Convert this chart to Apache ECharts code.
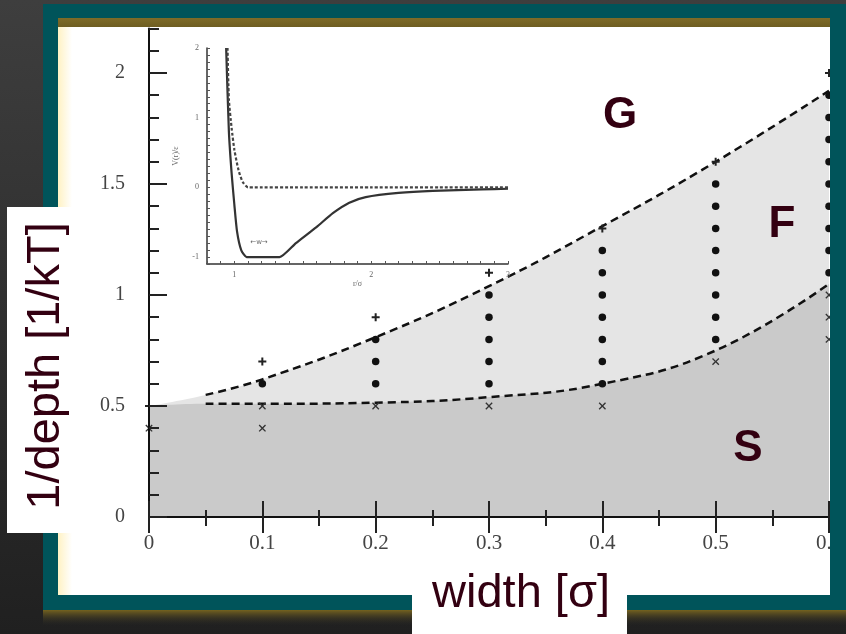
<!DOCTYPE html>
<html><head><meta charset="utf-8">
<script src="https://cdn.jsdelivr.net/npm/echarts@6/dist/echarts.min.js"></script>
<style>html,body{margin:0;padding:0;background:#333;}#c{width:846px;height:634px;}</style>
</head><body><div id="c"></div>
<script>
// ---- main phase diagram data ----
const boundaryX = [0.05, 0.1, 0.2, 0.3, 0.4, 0.5, 0.6];
const upperY = [0.55, 0.62, 0.81, 1.04, 1.31, 1.60, 1.92];   // G / F boundary
const lowerY = [0.51, 0.51, 0.515, 0.54, 0.60, 0.75, 1.05];  // F / S boundary
const originPoint = [0, 0.5];
const gasPts = [[0, 0.5], [0.1, 0.7], [0.2, 0.9], [0.3, 1.1], [0.4, 1.3], [0.5, 1.6], [0.6, 2.0]];
const fluidPts = [
  [0.1, 0.6],
  [0.2, 0.8], [0.2, 0.7], [0.2, 0.6],
  [0.3, 1.0], [0.3, 0.9], [0.3, 0.8], [0.3, 0.7], [0.3, 0.6],
  [0.4, 1.2], [0.4, 1.1], [0.4, 1.0], [0.4, 0.9], [0.4, 0.8], [0.4, 0.7], [0.4, 0.6],
  [0.5, 1.5], [0.5, 1.4], [0.5, 1.3], [0.5, 1.2], [0.5, 1.1], [0.5, 1.0], [0.5, 0.9], [0.5, 0.8],
  [0.6, 1.9], [0.6, 1.8], [0.6, 1.7], [0.6, 1.6], [0.6, 1.5], [0.6, 1.4], [0.6, 1.3], [0.6, 1.2], [0.6, 1.1]
];
const solidPts = [[0, 0.4], [0.1, 0.5], [0.1, 0.4], [0.2, 0.5], [0.3, 0.5], [0.4, 0.5], [0.5, 0.7], [0.6, 1.0], [0.6, 0.9], [0.6, 0.8]];
const regionLabels = [[0.4156, 1.806, 'G'], [0.5585, 1.315, 'F'], [0.5285, 0.306, 'S']];
const yMajorTicks = [0, 0.5, 1, 1.5, 2];

// ---- inset potential data ----
const wellX = [0.94, 0.96, 0.98, 1.0, 1.02, 1.05, 1.09, 1.2, 1.33, 1.45, 1.6, 1.72, 1.84, 1.96, 2.2, 2.45, 2.81, 3.0];
const wellY = [2.0, 0.8, 0.2, -0.25, -0.64, -0.9, -1.0, -1.0, -1.0, -0.8, -0.57, -0.37, -0.22, -0.14, -0.08, -0.05, -0.03, -0.02];
const hardX = [0.95, 0.96, 0.98, 1.0, 1.03, 1.06, 1.1, 1.5, 2.0, 2.5, 3.0];
const hardY = [2.0, 1.26, 0.85, 0.54, 0.25, 0.08, 0, 0, 0, 0, 0];
const wellNote = [[1.18, -0.79, '\u2190w\u2192']];

const zip = (xs, ys) => xs.map((x, i) => [x, ys[i]]);
const upperLine = zip(boundaryX, upperY);
const lowerLine = zip(boundaryX, lowerY);
const upperFill = [originPoint].concat(upperLine);
const lowerFill = [originPoint].concat(lowerLine);

const maroon = '#330011';
const plusPath = 'path://M3,0H5V3H8V5H5V8H3V5H0V3H3Z';
const crossPath = 'path://M3.4,0H4.6V3.4H8V4.6H4.6V8H3.4V4.6H0V3.4H3.4Z';
const tickCol = '#222';
const serif = 'Liberation Serif';
const curveSmooth = 0.45;
const intOnly = v => (Math.abs(v - Math.round(v)) < 1e-6 ? String(Math.round(v)) : '');

const chart = echarts.init(document.getElementById('c'));
chart.setOption({
  animation: false,
  backgroundColor: '#333',
  grid: [
    { left: 149, top: 28.6, width: 680, height: 488.4, outerBoundsMode: 'none' },
    { left: 207, top: 48, width: 301, height: 216, outerBoundsMode: 'none' }
  ],
  xAxis: [
    { gridIndex: 0, type: 'value', min: 0, max: 0.6, interval: 0.1, position: 'bottom', z: 6,
      axisLine: { show: true, onZero: false, lineStyle: { color: '#111', width: 2 } },
      axisTick: { inside: true, length: 16, lineStyle: { color: tickCol, width: 2 } },
      minorTick: { show: true, splitNumber: 2, length: 7, lineStyle: { color: tickCol, width: 2 } },
      splitLine: { show: false },
      axisLabel: { margin: 16, fontFamily: serif, fontSize: 21, color: '#444' } },
    { gridIndex: 0, type: 'value', min: 0, max: 0.6, interval: 0.1, position: 'top', z: 6,
      axisLine: { show: false },
      axisTick: { inside: true, length: 16, lineStyle: { color: tickCol, width: 2 } },
      minorTick: { show: true, splitNumber: 2, length: 9, lineStyle: { color: tickCol, width: 2 } },
      splitLine: { show: false }, axisLabel: { show: false } },
    { gridIndex: 1, type: 'value', min: 0.8, max: 3.0, interval: 0.1, position: 'bottom', z: 6,
      name: 'r/\u03c3', nameLocation: 'middle', nameGap: 11,
      nameTextStyle: { fontFamily: serif, fontSize: 8, color: '#666' },
      axisLine: { show: true, onZero: false, lineStyle: { color: '#333', width: 1.5 } },
      axisTick: { inside: true, length: 3, lineStyle: { color: '#555', width: 1 } },
      splitLine: { show: false },
      axisLabel: { interval: 0, margin: 7, fontFamily: serif, fontSize: 8, color: '#666', formatter: intOnly } }
  ],
  yAxis: [
    { gridIndex: 0, type: 'value', min: 0, max: 2.2, position: 'left', z: 6,
      axisLine: { show: true, onZero: false, lineStyle: { color: '#111', width: 2 } },
      axisTick: { inside: true, length: 18, customValues: yMajorTicks, lineStyle: { color: tickCol, width: 2 } },
      splitLine: { show: false },
      axisLabel: { customValues: yMajorTicks, margin: 24, fontFamily: serif, fontSize: 20, color: '#444',
        formatter: v => (Math.abs(v * 2 - Math.round(v * 2)) < 1e-6 && v <= 2 ? String(v) : '') } },
    { gridIndex: 0, type: 'value', min: 0, max: 2.2, interval: 0.1, position: 'left', z: 6,
      axisLine: { show: false },
      axisTick: { inside: true, length: 10, lineStyle: { color: tickCol, width: 2 } },
      splitLine: { show: false }, axisLabel: { show: false } },
    { gridIndex: 1, type: 'value', min: -1.1, max: 2, interval: 0.1, position: 'left', z: 6,
      name: 'V(r)/\u03b5', nameLocation: 'middle', nameGap: 27,
      nameTextStyle: { fontFamily: serif, fontSize: 8, color: '#666' },
      axisLine: { show: true, onZero: false, lineStyle: { color: '#333', width: 1.5 } },
      axisTick: { inside: true, length: 3, lineStyle: { color: '#555', width: 1 } },
      splitLine: { show: false },
      axisLabel: { interval: 0, margin: 8, fontFamily: serif, fontSize: 8, color: '#666', formatter: intOnly } }
  ],
  series: [
    { type: 'line', z: 1, xAxisIndex: 0, yAxisIndex: 0, data: upperFill, smooth: curveSmooth, symbol: 'none',
      lineStyle: { width: 0 }, areaStyle: { color: '#e5e5e5', opacity: 1 } },
    { type: 'line', z: 1.5, xAxisIndex: 0, yAxisIndex: 0, data: lowerFill, smooth: curveSmooth, symbol: 'none',
      lineStyle: { width: 0 }, areaStyle: { color: '#cacaca', opacity: 1 } },
    { type: 'line', z: 3, xAxisIndex: 0, yAxisIndex: 0, data: upperLine, smooth: curveSmooth, symbol: 'none',
      lineStyle: { color: '#111', width: 2.5, type: [8, 5] } },
    { type: 'line', z: 3, xAxisIndex: 0, yAxisIndex: 0, data: lowerLine, smooth: curveSmooth, symbol: 'none',
      lineStyle: { color: '#111', width: 2.5, type: [8, 5] } },
    { type: 'scatter', z: 4, xAxisIndex: 0, yAxisIndex: 0, data: gasPts, symbol: plusPath, symbolSize: 8,
      itemStyle: { color: '#222', opacity: 1 } },
    { type: 'scatter', z: 4, xAxisIndex: 0, yAxisIndex: 0, data: fluidPts, symbol: 'circle', symbolSize: 7.5,
      itemStyle: { color: '#111', opacity: 1 } },
    { type: 'scatter', z: 4, xAxisIndex: 0, yAxisIndex: 0, data: solidPts, symbol: crossPath, symbolSize: 9, symbolRotate: 45,
      itemStyle: { color: '#333', opacity: 1 } },
    { type: 'scatter', z: 5, xAxisIndex: 0, yAxisIndex: 0, data: regionLabels, symbolSize: 1,
      itemStyle: { color: 'rgba(0,0,0,0)', opacity: 1 },
      label: { show: true, position: 'inside', formatter: p => p.data[2], opacity: 1,
        fontFamily: 'Liberation Sans', fontWeight: 'bold', fontSize: 44, color: maroon } },
    { type: 'line', z: 4, xAxisIndex: 2, yAxisIndex: 2, data: zip(wellX, wellY), smooth: 0.2, symbol: 'none',
      lineStyle: { color: '#333', width: 2.2 } },
    { type: 'line', z: 4, xAxisIndex: 2, yAxisIndex: 2, data: zip(hardX, hardY), smooth: 0.2, symbol: 'none',
      lineStyle: { color: '#444', width: 2.2, type: [3, 2] } },
    { type: 'scatter', z: 5, xAxisIndex: 2, yAxisIndex: 2, data: wellNote, symbolSize: 1,
      itemStyle: { color: 'rgba(0,0,0,0)', opacity: 1 },
      label: { show: true, position: 'inside', formatter: p => p.data[2],
        fontFamily: 'DejaVu Sans', fontSize: 7, color: '#666' } }
  ],
  graphic: [
    { type: 'rect', z: -10, shape: { x: 0, y: 0, width: 846, height: 634 },
      style: { fill: { type: 'linear', x: 0, y: 0, x2: 0, y2: 1, colorStops: [{ offset: 0, color: '#3e3e3e' }, { offset: 1, color: '#202020' }] } } },
    { type: 'rect', z: -9, shape: { x: 43, y: 610, width: 803, height: 16 },
      style: { fill: { type: 'linear', x: 0, y: 0, x2: 0, y2: 1, colorStops: [{ offset: 0, color: '#74621f' }, { offset: 1, color: 'rgba(40,40,40,0)' }] } } },
    { type: 'rect', z: -8, shape: { x: 58, y: 27, width: 772, height: 568 }, style: { fill: '#ffffff' } },
    { type: 'rect', z: -7, shape: { x: 58, y: 27, width: 14, height: 568 },
      style: { fill: { type: 'linear', x: 0, y: 0, x2: 1, y2: 0, colorStops: [{ offset: 0, color: '#fff2c4' }, { offset: 1, color: '#ffffff' }] } } },
    // teal frame
    { type: 'rect', z: 100, shape: { x: 43, y: 4, width: 803, height: 14 }, style: { fill: '#00545a' } },
    { type: 'rect', z: 100, shape: { x: 43, y: 4, width: 15, height: 606 }, style: { fill: '#00545a' } },
    { type: 'rect', z: 100, shape: { x: 830, y: 4, width: 16, height: 606 }, style: { fill: '#00545a' } },
    { type: 'rect', z: 100, shape: { x: 43, y: 595, width: 803, height: 15 }, style: { fill: '#00545a' } },
    { type: 'rect', z: 100, shape: { x: 58, y: 18, width: 772, height: 9 },
      style: { fill: { type: 'linear', x: 0, y: 0, x2: 0, y2: 1, colorStops: [{ offset: 0, color: '#7e6b28' }, { offset: 1, color: '#6e5e22' }] } } },
    // axis title boxes
    { type: 'rect', z: 110, shape: { x: 7, y: 207, width: 75, height: 326 }, style: { fill: '#ffffff' } },
    { type: 'text', z: 111, x: 46, y: 366, rotation: Math.PI / 2,
      style: { text: '1/depth [1/kT]', font: '47px "Liberation Sans"', fill: maroon, align: 'center', verticalAlign: 'middle' } },
    { type: 'rect', z: 110, shape: { x: 412, y: 583, width: 215, height: 51 }, style: { fill: '#ffffff' } },
    { type: 'text', z: 111, x: 521, y: 594,
      style: { text: 'width [\u03c3]', font: '47px "Liberation Sans"', fill: maroon, align: 'center', verticalAlign: 'middle' } }
  ]
});
</script>
</body></html>
